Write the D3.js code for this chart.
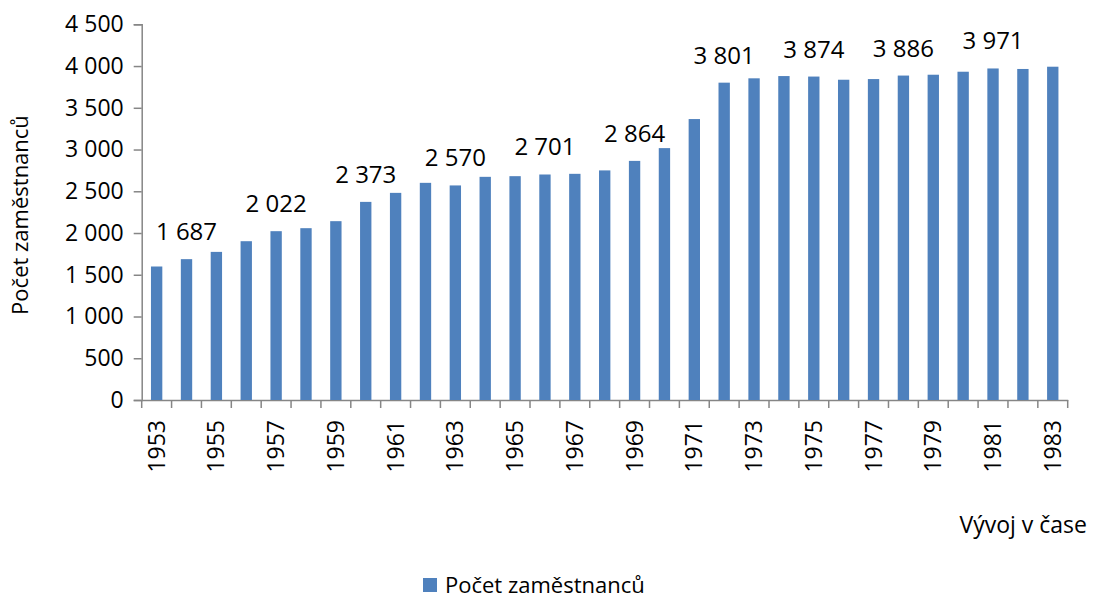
<!DOCTYPE html>
<html>
<head>
<meta charset="utf-8">
<script src="https://cdn.jsdelivr.net/npm/d3@7"></script>
<style>
  body { margin: 0; background: #fff; }
  svg text { font-family: "Open Sans", "Noto Sans", sans-serif; fill: #000; }
</style>
</head>
<body>
<svg id="chart" width="1097" height="602"></svg>
<script>
const years = d3.range(1953, 1984);
const employees = [1599, 1687, 1774, 1902, 2022, 2058, 2142, 2373, 2481, 2601,
  2570, 2673, 2681, 2701, 2709, 2750, 2864, 3017, 3365, 3801,
  3853, 3880, 3874, 3836, 3844, 3886, 3896, 3932, 3971, 3965, 3992];
const labelledYears = [1954, 1957, 1960, 1963, 1966, 1969, 1972, 1975, 1978, 1981];
const yTicks = d3.range(0, 4501, 500);

const seriesName = 'Počet zaměstnanců';
const yTitle = 'Počet zaměstnanců';
const xTitle = 'Vývoj v čase';

const data = years.map((y, i) => ({ year: y, value: employees[i] }));

const svg = d3.select('#chart');
const margin = { left: 141.7, right: 29.3, top: 24.3, bottom: 202 };
const width = 1097 - margin.left - margin.right;
const height = 602 - margin.top - margin.bottom;

const g = svg.append('g')
  .attr('transform', `translate(${margin.left},${margin.top})`);

const x = d3.scaleBand()
  .domain(years)
  .range([0, width])
  .paddingInner(0.62)
  .paddingOuter(0.31);

const y = d3.scaleLinear()
  .domain([0, 4500])
  .range([height, 0]);

const fmt = d3.formatLocale({ thousands: ' ', grouping: [3], decimal: ',', currency: ['', ''] }).format(',d');

// y axis
const yAxis = g.append('g')
  .call(d3.axisLeft(y).tickValues(yTicks).tickSize(8).tickPadding(10).tickFormat(fmt));
yAxis.selectAll('text').style('font-size', '23px');

// x axis: ticks at band boundaries
const xAxis = g.append('g')
  .attr('transform', `translate(0,${height})`)
  .call(d3.axisBottom(x).tickSize(0).tickFormat((d, i) => i % 2 === 0 ? d : ''));
xAxis.selectAll('text')
  .style('font-size', '23px')
  .attr('transform', 'rotate(-90)')
  .attr('text-anchor', 'end')
  .attr('dy', '0.35em')
  .attr('x', -20)
  .attr('y', 0);

const step = x.step();
xAxis.selectAll('line.bound')
  .data(d3.range(years.length + 1))
  .join('line')
  .attr('class', 'bound')
  .attr('x1', i => i * step)
  .attr('x2', i => i * step)
  .attr('y1', 0)
  .attr('y2', 8);

[yAxis, xAxis].forEach(a => {
  a.selectAll('path, line').attr('stroke', '#868686').attr('stroke-width', 1.5);
});

// bars
g.selectAll('rect.bar')
  .data(data)
  .join('rect')
  .attr('class', 'bar')
  .attr('x', d => x(d.year))
  .attr('width', x.bandwidth())
  .attr('y', d => y(d.value))
  .attr('height', d => height - y(d.value))
  .attr('fill', '#4F81BD');

// value labels
g.selectAll('text.lbl')
  .data(data.filter(d => labelledYears.includes(d.year)))
  .join('text')
  .attr('class', 'lbl')
  .attr('x', d => x(d.year) + x.bandwidth() / 2)
  .attr('y', d => y(d.value) - 19)
  .attr('text-anchor', 'middle')
  .style('font-size', '24px')
  .text(d => fmt(d.value));

// axis titles
svg.append('text')
  .attr('transform', 'translate(28,215) rotate(-90)')
  .attr('text-anchor', 'middle')
  .style('font-size', '22px')
  .text(yTitle);

svg.append('text')
  .attr('x', 1087)
  .attr('y', 533)
  .attr('text-anchor', 'end')
  .style('font-size', '23px')
  .text(xTitle);

// legend
const legend = svg.append('g').attr('transform', 'translate(423,578)');
legend.append('rect')
  .attr('width', 14)
  .attr('height', 14)
  .attr('fill', '#4F81BD');
legend.append('text')
  .attr('x', 22)
  .attr('y', 15)
  .style('font-size', '22px')
  .text(seriesName);
</script>
</body>
</html>
